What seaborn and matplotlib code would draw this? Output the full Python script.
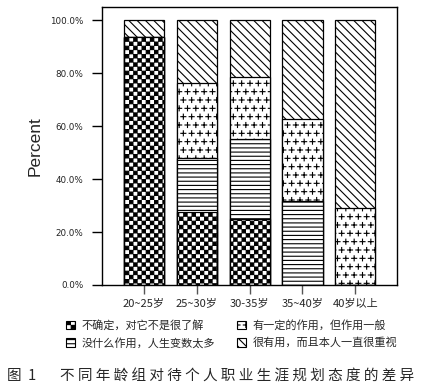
import numpy as np
import pandas as pd
import matplotlib
matplotlib.use("Agg")
import matplotlib.pyplot as plt
import matplotlib.hatch as mhatch
from matplotlib.path import Path
from matplotlib.patches import Patch
import seaborn as sns

# ---------------- data ----------------
ages = ["20~25岁", "25~30岁", "30-35岁", "35~40岁", "40岁以上"]
attitudes = ["不确定，对它不是很了解", "没什么作用，人生变数太多",
             "有一定的作用，但作用一般", "很有用，而且本人一直很重视"]
unsure = [93.6, 27.5, 24.8, 0.0, 0.0]
useless = [0.0, 20.7, 30.3, 31.8, 0.0]
somewhat = [0.0, 28.3, 23.5, 30.9, 29.1]
very_useful = [6.4, 23.5, 21.4, 37.3, 70.9]
y_ticks = [0, 20, 40, 60, 80, 100]
y_tick_labels = ["0.0%", "20.0%", "40.0%", "60.0%", "80.0%", "100.0%"]
y_label = "Percent"
caption_num = "图  1"
caption = "不同年龄组对待个人职业生涯规划态度的差异"


# ---------------- custom hatch patterns ----------------
class Checker(mhatch.HatchPatternBase):
    """Filled checkerboard, triggered by 'O'."""
    def __init__(self, hatch, density):
        k = hatch.count('O')
        self.n = 24 * k if k else 0
        self.num_vertices = (self.n * self.n // 2) * 5

    def set_vertices_and_codes(self, vertices, codes):
        n = self.n
        s = 1.0 / n
        d = 0.004
        vs, cs = [], []
        for i in range(n):
            for j in range(n):
                if (i + j) % 2 == 0:
                    x0, y0 = i * s + d, j * s + d
                    x1, y1 = (i + 1) * s - d, (j + 1) * s - d
                    vs.append([[x0, y0], [x1, y0], [x1, y1], [x0, y1], [x0, y0]])
                    cs.append([Path.MOVETO, Path.LINETO, Path.LINETO,
                               Path.LINETO, Path.CLOSEPOLY])
        vertices[:] = np.array(vs, dtype=float).reshape(-1, 2)
        codes[:] = np.array(cs).ravel()


class Pluses(mhatch.Shapes):
    """Staggered small plus signs, triggered by '*'."""
    size = 0.3
    filled = True

    def __init__(self, hatch, density):
        self.num_rows = 12 * hatch.count('*')
        self.shape_vertices = np.array([[-1.0, 0.0], [1.0, 0.0],
                                        [0.0, -1.0], [0.0, 1.0]])
        self.shape_codes = np.array([Path.MOVETO, Path.LINETO,
                                     Path.MOVETO, Path.LINETO],
                                    dtype=Path.code_type)
        super().__init__(hatch, density)


mhatch._hatch_types[:] = [mhatch.HorizontalHatch, mhatch.VerticalHatch,
                          mhatch.NorthEastHatch, mhatch.SouthEastHatch,
                          mhatch.SmallCircles, Checker,
                          mhatch.SmallFilledCircles, Pluses]

hatches = ["O", "----", "*", "\\\\\\\\"]

# ---------------- style ----------------
sns.set_style("ticks")
plt.rcParams['font.family'] = ['Noto Sans CJK SC', 'DejaVu Sans']
plt.rcParams['hatch.linewidth'] = 0.8

fig = plt.figure(figsize=(4.33, 3.91), dpi=100)
ax = fig.add_axes([102 / 433, 1 - 285 / 391, 295 / 433, 278 / 391])

series = [unsure, useless, somewhat, very_useful]
cum = np.cumsum(np.array(series), axis=0)
df = pd.DataFrame({"age": ages})
for k in range(4):
    df[f"cum{k}"] = cum[k]

# draw from the top of the stack down so lower segments overlay higher ones
for k in [3, 2, 1, 0]:
    sns.barplot(data=df, x="age", y=f"cum{k}", order=ages, color="white",
                saturation=1, edgecolor="black", linewidth=0.9,
                hatch=hatches[k], width=0.76, errorbar=None, ax=ax)

ax.set_xlim(-0.795, 4.79)
ax.set_ylim(0, 105.1)
ax.set_yticks(y_ticks)
ax.set_yticklabels(y_tick_labels, family="DejaVu Sans", fontsize=6.3,
                   color="#222222")
ax.tick_params(axis="y", length=7.2, width=1, pad=6.3, color="black")
ax.tick_params(axis="x", length=6.5, width=1, pad=3, color="#555555",
               labelsize=8)
ax.set_xlabel("")
ax.set_ylabel(y_label, family="Liberation Sans", fontsize=12.5)
ax.yaxis.set_label_coords(-0.2, 0.5)
for sp in ax.spines.values():
    sp.set_visible(True)
    sp.set_color("black")
    sp.set_linewidth(1)

handles = [Patch(facecolor="white", edgecolor="black", linewidth=0.8,
                 hatch=hatches[k]) for k in [0, 1, 2, 3]]
fig.legend(handles, attitudes, ncol=2, loc="upper left",
           bbox_to_anchor=(66 / 433, 1 - 320 / 391), frameon=False,
           handlelength=0.8, handleheight=0.8, handletextpad=0.6,
           columnspacing=2.0, labelspacing=0.6, borderpad=0,
           borderaxespad=0, prop={"size": 8})

fig.text(7 / 433, 1 - 376 / 391, caption_num, va="center", ha="left",
         fontsize=10.5)
fig.text(60 / 433, 1 - 376 / 391, " ".join(caption), va="center",
         ha="left", fontsize=10.5)

fig.savefig("out.png", dpi=100)
